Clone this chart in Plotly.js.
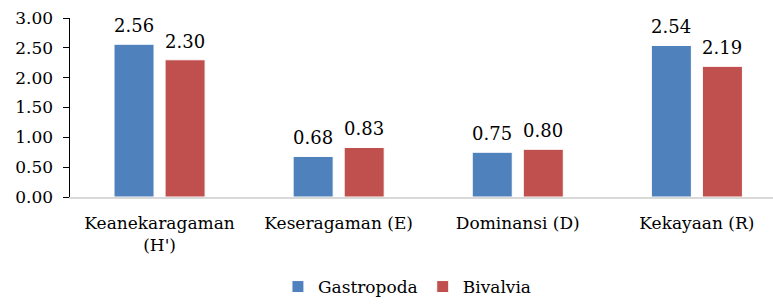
<!DOCTYPE html>
<html><head><meta charset="utf-8">
<script src="https://cdn.plot.ly/plotly-3.0.1.min.js"></script>
<style>body{margin:0}#c{width:773px;height:305px}</style>
</head><body><div id="c"></div>
<script>
const categories = ["Keanekaragaman<br>(H')", "Keseragaman (E)", "Dominansi (D)", "Kekayaan (R)"];
const gastropoda = [2.56, 0.68, 0.75, 2.54];
const bivalvia = [2.30, 0.83, 0.80, 2.19];
const yTicks = [0, 0.5, 1, 1.5, 2, 2.5, 3];
const SERIF = "DejaVu Serif";
const font = {family: SERIF, size: 17, color: "#000"};
function trace(name, vals, color) {
  return {type: "bar", name: name, x: categories, y: vals,
    marker: {color: color, line: {color: "#fff", width: 1}}};
}
const annotations = [];
[[gastropoda, -25.5], [bivalvia, 25.5]].forEach(([vals, dx]) => {
  vals.forEach((v, i) => annotations.push({x: categories[i], y: v, xref: "x", yref: "y", text: v.toFixed(2),
    showarrow: false, xshift: dx, yanchor: "bottom", yshift: 6, font: {family: SERIF, size: 18, color: "#000"}}));
});
Plotly.newPlot("c", [trace("Gastropoda", gastropoda, "#4F81BD"), trace("Bivalvia", bivalvia, "#C0504D")], {
  width: 773, height: 305, margin: {l: 70, r: 0, t: 18, b: 108, autoexpand: false},
  paper_bgcolor: "#fff", plot_bgcolor: "#fff", font: font, annotations: annotations,
  barmode: "group", bargap: 0.43, bargroupgap: 0.216,
  xaxis: {range: [-0.5, 3.425], showline: true, linecolor: "#d9d9d9", linewidth: 1.5, ticks: "", ticklabelstandoff: 10,
    tickfont: {family: SERIF, size: 17}, fixedrange: true, automargin: false},
  yaxis: {range: [0, 3], tickvals: yTicks, ticktext: yTicks.map(v => v.toFixed(2)), showgrid: false, zeroline: false, automargin: false,
    showline: true, linecolor: "#000", linewidth: 1.5, ticks: "outside", ticklen: 6, tickcolor: "#000", ticklabelstandoff: 6,
    tickfont: {family: SERIF, size: 17}},
  showlegend: true,
  legend: {orientation: "h", x: 0.48, xanchor: "center", yref: "container", y: -0.025, yanchor: "bottom", font: {family: SERIF, size: 17}, itemwidth: 30, traceorder: "normal"}
}, {displayModeBar: false, staticPlot: true});
</script></body></html>
